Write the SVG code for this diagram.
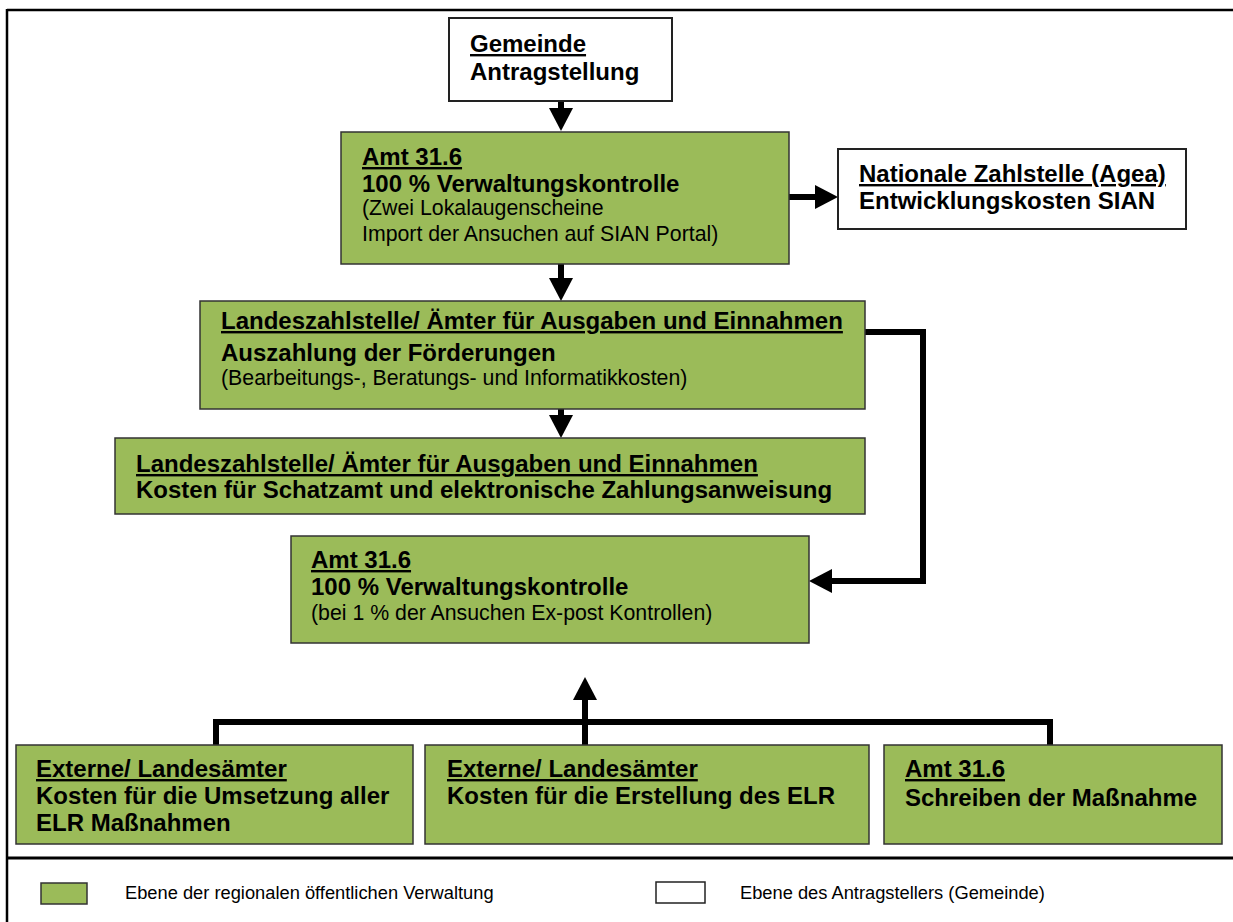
<svg xmlns="http://www.w3.org/2000/svg" width="1233" height="922" viewBox="0 0 1233 922">
  <style>
    .frame { stroke: #000; fill: none; }
    .green { fill: #9BBB59; stroke: #333; stroke-width: 1.5; }
    .white { fill: #fff; stroke: #222; stroke-width: 2; }
    .conn { fill: none; stroke: #000; stroke-width: 6; stroke-linejoin: miter; }
    text { font-family: "Liberation Sans", Arial, sans-serif; fill: #000; }
    .b { font-weight: bold; font-size: 24px; }
    .r { font-size: 21.3px; }
    .u { text-decoration: underline; }
    .leg { font-size: 18.3px; }
  </style>
  <defs>
    <marker id="head" viewBox="0 0 23 24" markerWidth="23" markerHeight="24" refX="0" refY="12" orient="auto" markerUnits="userSpaceOnUse">
      <path d="M0,0 L23,12 L0,24 Z" fill="#000"/>
    </marker>
  </defs>

  <rect width="1233" height="922" fill="#fff"/>

  <!-- page frame and legend separator -->
  <g id="frame" class="frame">
    <line x1="7" y1="10" x2="1233" y2="10" stroke-width="2.5"/>
    <line x1="7" y1="9" x2="7" y2="922" stroke-width="2.5"/>
    <line x1="7" y1="858" x2="1233" y2="858" stroke-width="3"/>
  </g>

  <!-- connectors -->
  <g id="connectors">
    <path class="conn" d="M561,101 V108" marker-end="url(#head)"/>
    <path class="conn" d="M789,197 H815" marker-end="url(#head)"/>
    <path class="conn" d="M561,264 V278" marker-end="url(#head)"/>
    <path class="conn" d="M561,409 V415" marker-end="url(#head)"/>
    <path class="conn" d="M865,332 H923 V581 H832" marker-end="url(#head)"/>
    <path class="conn" d="M216,745 V722 H1050 V745"/>
    <path class="conn" d="M585,745 V700" marker-end="url(#head)"/>
  </g>

  <g id="gemeinde">
    <rect class="white" x="449" y="18" width="223" height="83"/>
    <text class="b" x="470" y="52"><tspan class="u">Gemeinde</tspan></text>
    <text class="b" x="470" y="80">Antragstellung</text>
  </g>

  <g id="amt-antrag">
    <rect class="green" x="341" y="132" width="448" height="132"/>
    <text class="b" x="362" y="165"><tspan class="u">Amt 31.6</tspan></text>
    <text class="b" x="362" y="192">100 % Verwaltungskontrolle</text>
    <text class="r" x="362" y="215">(Zwei Lokalaugenscheine</text>
    <text class="r" x="362" y="241">Import der Ansuchen auf SIAN Portal)</text>
  </g>

  <g id="agea">
    <rect class="white" x="838" y="149" width="348" height="80"/>
    <text class="b" x="859" y="182"><tspan class="u">Nationale Zahlstelle (Agea)</tspan></text>
    <text class="b" x="859" y="209">Entwicklungskosten SIAN</text>
  </g>

  <g id="landes-auszahlung">
    <rect class="green" x="200" y="301" width="665" height="108"/>
    <text class="b" x="221" y="329"><tspan class="u">Landeszahlstelle/ Ämter für Ausgaben und Einnahmen</tspan></text>
    <text class="b" x="221" y="361">Auszahlung der Förderungen</text>
    <text class="r" x="221" y="385">(Bearbeitungs-, Beratungs- und Informatikkosten)</text>
  </g>

  <g id="landes-schatzamt">
    <rect class="green" x="115" y="438" width="750" height="76"/>
    <text class="b" x="136" y="472"><tspan class="u">Landeszahlstelle/ Ämter für Ausgaben und Einnahmen</tspan></text>
    <text class="b" x="136" y="498">Kosten für Schatzamt und elektronische Zahlungsanweisung</text>
  </g>

  <g id="amt-kontrolle">
    <rect class="green" x="291" y="536" width="518" height="107"/>
    <text class="b" x="311" y="568"><tspan class="u">Amt 31.6</tspan></text>
    <text class="b" x="311" y="595">100 % Verwaltungskontrolle</text>
    <text class="r" x="311" y="620">(bei 1 % der Ansuchen Ex-post Kontrollen)</text>
  </g>

  <g id="externe-umsetzung">
    <rect class="green" x="16" y="745" width="397" height="99"/>
    <text class="b" x="36" y="777"><tspan class="u">Externe/ Landesämter</tspan></text>
    <text class="b" x="36" y="804">Kosten für die Umsetzung aller</text>
    <text class="b" x="36" y="831">ELR Maßnahmen</text>
  </g>

  <g id="externe-erstellung">
    <rect class="green" x="425" y="745" width="444" height="99"/>
    <text class="b" x="447" y="777"><tspan class="u">Externe/ Landesämter</tspan></text>
    <text class="b" x="447" y="804">Kosten für die Erstellung des ELR</text>
  </g>

  <g id="amt-schreiben">
    <rect class="green" x="884" y="745" width="338" height="99"/>
    <text class="b" x="905" y="777"><tspan class="u">Amt 31.6</tspan></text>
    <text class="b" x="905" y="806">Schreiben der Maßnahme</text>
  </g>

  <!-- legend -->
  <g id="legend">
    <rect class="green" x="41" y="883" width="46" height="21"/>
    <text class="leg" x="125" y="899">Ebene der regionalen öffentlichen Verwaltung</text>
    <rect x="656" y="882" width="49" height="21" fill="#fff" stroke="#222" stroke-width="1.5"/>
    <text class="leg" x="740" y="899">Ebene des Antragstellers (Gemeinde)</text>
  </g>
</svg>
